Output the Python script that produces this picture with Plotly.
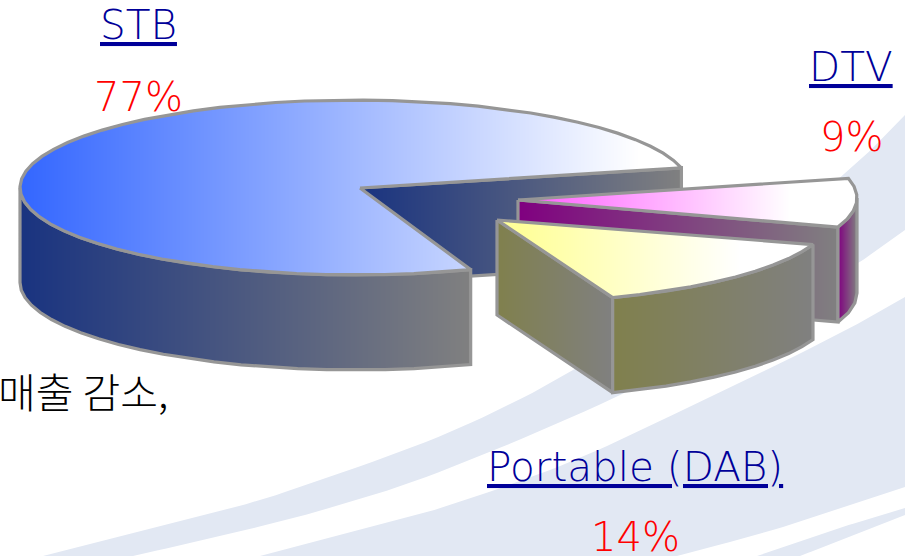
import numpy as np
import plotly.graph_objects as go

# ---- data ----
categories = ["STB", "Portable (DAB)", "DTV"]
values = [77, 14, 9]
value_labels = ["77%", "14%", "9%"]
caption = "매출 감소,"

W, H = 905, 556
EDGE = "#969696"
GRAY = "#808080"
NAVY = "#000099"
DEPTH = 95
RX, RY = 335, 87.5
START = 13.0  # degrees, counter-clockwise on screen


def ramp(c0, c1):
    return [[0, c0], [1, c1]]


def arc(cx, cy, a0, a1, step=5.0):
    n = max(2, int(abs(a1 - a0) / step) + 1)
    t = np.radians(np.linspace(a0, a1, n))
    return np.column_stack([cx + RX * np.cos(t), cy - RY * np.sin(t)])


def raster(poly):
    """Pixel grid of the polygon: returns x, y and an inside mask."""
    x0, x1 = int(np.floor(poly[:, 0].min())), int(np.ceil(poly[:, 0].max()))
    y0, y1 = int(np.floor(poly[:, 1].min())), int(np.ceil(poly[:, 1].max()))
    xs = np.arange(x0, x1 + 1) + 0.5
    ys = np.arange(y0, y1 + 1) + 0.5
    X, Y = np.meshgrid(xs, ys)
    inside = np.zeros(X.shape, bool)
    px, py = poly[:, 0], poly[:, 1]
    qx, qy = np.roll(px, -1), np.roll(py, -1)
    for ax, ay, bx, by in zip(px, py, qx, qy):
        if ay == by:
            continue
        cond = (ay > Y) != (by > Y)
        inside ^= cond & (X < (bx - ax) * (Y - ay) / (by - ay) + ax)
    return xs, ys, X, inside


fig = go.Figure()
layers = []  # overlay axes, one per face, so faces stack in painting order


def face(poly, c0, c1, g0=None, g1=None):
    poly = np.asarray(poly, float)
    g0 = poly[:, 0].min() if g0 is None else g0
    g1 = poly[:, 0].max() if g1 is None else g1
    xs, ys, X, inside = raster(poly)
    z = np.clip((X - g0) / (g1 - g0), 0, 1)
    z[~inside] = np.nan
    k = len(layers) + 2
    layers.append(k)
    fig.add_trace(go.Heatmap(x=xs, y=ys, z=z, zmin=0, zmax=1, colorscale=ramp(c0, c1),
                             showscale=False, hoverinfo="skip", zsmooth=False,
                             xaxis=f"x{k}", yaxis=f"y{k}"))
    closed = np.vstack([poly, poly[0]])
    fig.add_trace(go.Scatter(x=closed[:, 0], y=closed[:, 1], mode="lines",
                             line=dict(color=EDGE, width=3.2), hoverinfo="skip", showlegend=False,
                             xaxis=f"x{k}", yaxis=f"y{k}"))


def wall(top):
    return np.vstack([top, top[::-1] + [0, DEPTH]])


def smooth(points, n=12):
    """Catmull-Rom curve through an edge of a background band."""
    p = np.array(points, float)
    q = np.vstack([2 * p[0] - p[1], p, 2 * p[-1] - p[-2]])
    out = []
    for i in range(1, len(q) - 2):
        for t in np.linspace(0, 1, n, endpoint=False):
            out.append(0.5 * (2 * q[i] + (q[i + 1] - q[i - 1]) * t
                              + (2 * q[i - 1] - 5 * q[i] + 4 * q[i + 1] - q[i + 2]) * t ** 2
                              + (3 * q[i] - q[i - 1] - 3 * q[i + 1] + q[i + 2]) * t ** 3))
    out.append(p[-1])
    return np.array(out)


# background swooshes: upper edge, lower edge (both left to right)
BAND = "#E2E8F3"
band_edges = [
    ([(43, 556), (213, 513), (300, 487), (450, 432), (573, 370), (700, 285), (800, 210), (860, 160), (905, 115)],
     [(133, 556), (233, 533), (333, 507), (450, 468), (627, 392), (760, 320), (858, 263), (905, 230)]),
    ([(260, 556), (367, 528), (450, 505), (570, 462), (683, 410), (827, 340), (905, 297)],
     [(677, 556), (783, 527), (905, 487)]),
    ([(757, 556), (830, 531), (905, 508)],
     [(800, 556), (850, 537), (905, 515)]),
]
for up, low in band_edges:
    xy = np.vstack([smooth(up), smooth(low)[::-1]])
    xy = np.vstack([xy, xy[0]])
    fig.add_trace(go.Scatter(x=xy[:, 0], y=xy[:, 1], mode="lines", fill="toself", fillcolor=BAND,
                             line=dict(width=0, color=BAND), hoverinfo="skip", showlegend=False))

# slice angles come from the values
sweeps = [v / sum(values) * 360 for v in values]
a = [START]
for s in sweeps:
    a.append(a[-1] + s)

# --- STB ---
cx, cy = 355, 187.5
apex = np.array([360, 188.0])
rim0 = arc(cx, cy, a[0], a[0])[0]
face(np.array([apex, rim0, rim0 + [0, DEPTH], apex + [0, DEPTH]]), "#193380", GRAY)
face(wall(arc(cx, cy, 180, a[1])), "#193380", GRAY)
face(np.vstack([[apex], arc(cx, cy, a[0], a[1])]), "#3366FF", "#FFFFFF", 20, 640)

# --- DTV ---
cx, cy = 522, 198
apex = np.array([518, 200.0])
rim1 = arc(cx, cy, a[2], a[2])[0]
face(np.array([apex, rim1, rim1 + [0, DEPTH], apex + [0, DEPTH]]), "#800080", GRAY)
face(wall(arc(cx, cy, a[2], 360)), "#800080", GRAY)
face(np.vstack([[apex], arc(cx, cy, a[2], a[3])]), "#FF66FF", "#FFFFFF", 540, 790)

# --- Portable (DAB) ---
cx, cy = 497, 215.5
apex = np.array([497, 220.0])
rim0 = arc(cx, cy, a[1], a[1])[0]
face(np.array([apex, rim0, rim0 + [0, DEPTH], apex + [0, DEPTH]]), "#80804D", GRAY)
face(wall(arc(cx, cy, a[1], a[2])), "#80804D", GRAY)
face(np.vstack([[apex], arc(cx, cy, a[1], a[2])]), "#FFFF99", "#FFFFFF", 520, 740)

# --- labels ---
FONT = "DejaVu Sans Light, DejaVu Sans"
label_pos = {"STB": (138, 42, 113), "Portable (DAB)": (635, 484, 553), "DTV": (851, 84, 153)}
annotations = []


def label(x, y, text, font):
    yy = min(y, H - 1)
    annotations.append(dict(x=x, y=yy, yshift=yy - y, text=text, xanchor="center", yanchor="bottom",
                            showarrow=False, font=font))


for name, lab in zip(categories, value_labels):
    x, y_name, y_val = label_pos[name]
    label(x, y_name + 9, name, dict(family=FONT, size=40.5, color=NAVY, lineposition="under"))
    label(x, y_val + 9, lab, dict(family=FONT, size=40, color="#FF0000"))
annotations.append(dict(x=170, y=422, text=caption, xanchor="right", yanchor="bottom", showarrow=False,
                        font=dict(family="Noto Sans CJK KR", size=41, color="#000000", weight=300)))

axes = {}
for k in layers:
    axes[f"xaxis{k}"] = dict(range=[0, W], visible=False, fixedrange=True, overlaying="x")
    axes[f"yaxis{k}"] = dict(range=[H, 0], visible=False, fixedrange=True, overlaying="y")

fig.update_layout(
    width=W, height=H, margin=dict(l=0, r=0, t=0, b=0), showlegend=False,
    paper_bgcolor="#FFFFFF", plot_bgcolor="rgba(0,0,0,0)", annotations=annotations,
    xaxis=dict(range=[0, W], visible=False, fixedrange=True),
    yaxis=dict(range=[H, 0], visible=False, fixedrange=True),
    **axes,
)
fig.write_html("out.html", config={"displayModeBar": False},
               post_script="document.body.style.margin='0';document.documentElement.style.overflow='hidden';")
